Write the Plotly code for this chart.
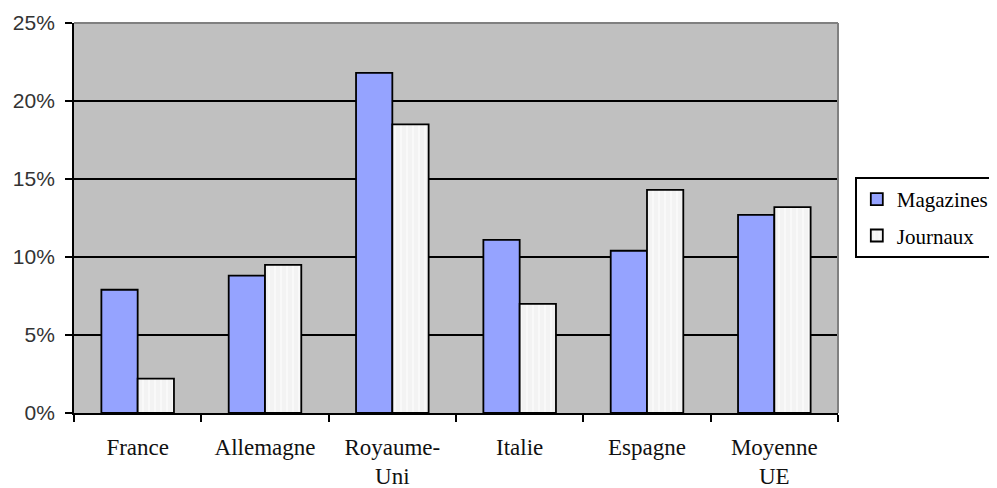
import plotly.graph_objects as go

categories = ["France", "Allemagne", "Royaume-<br>Uni", "Italie", "Espagne", "Moyenne<br>UE"]
magazines = [7.9, 8.8, 21.8, 11.1, 10.4, 12.7]
journaux = [2.2, 9.5, 18.5, 7.0, 14.3, 13.2]
y_ticks = [0, 5, 10, 15, 20, 25]
y_tick_labels = ["0%", "5%", "10%", "15%", "20%", "25%"]

fig = go.Figure()
fig.add_trace(go.Bar(
    name="Magazines", x=categories, y=magazines, legendgroup="m",
    marker=dict(color="#95A3FF", line=dict(color="black", width=1.8)),
))
fig.add_trace(go.Bar(
    name="Journaux", x=categories, y=journaux, legendgroup="j",
    marker=dict(color="#F3F3F3", line=dict(color="black", width=1.8),
                pattern=dict(shape="|", fgcolor="#FFFFFF", size=6, solidity=0.35)),
))

fig.update_layout(
    width=997, height=488,
    margin=dict(l=66, r=167, t=15, b=83, autoexpand=False),
    paper_bgcolor="white", plot_bgcolor="#C0C0C0",
    barmode="group", bargap=0.43, bargroupgap=0,
    showlegend=True,
    legend=dict(x=1.022, y=0.605, xanchor="left", yanchor="top",
                bordercolor="black", borderwidth=2, bgcolor="white",
                font=dict(family="Liberation Serif", size=21, color="black"),
                traceorder="grouped", tracegroupgap=6, itemwidth=30),
    font=dict(family="Liberation Serif", color="black"),
)
fig.update_xaxes(
    showline=True, linecolor="black", linewidth=1.8,
    ticks="outside", tickson="boundaries", ticklen=7, tickcolor="black", tickwidth=1.8,
    tickfont=dict(family="Liberation Serif", size=23, color="#111111"),
    ticklabelstandoff=12,
    showgrid=False,
)
fig.update_yaxes(
    range=[0, 25], tickvals=y_ticks, ticktext=y_tick_labels,
    showline=True, linecolor="black", linewidth=1.8,
    ticks="outside", ticklen=7, tickcolor="black", tickwidth=1.8,
    tickfont=dict(family="Liberation Sans", size=21, color="#333333"),
    ticklabelstandoff=6,
    showgrid=True, gridcolor="black", gridwidth=1.8,
    zeroline=False,
)
# gray top and right borders of the plot area
fig.add_shape(type="line", xref="paper", yref="paper", x0=0, x1=1, y0=1, y1=1,
              line=dict(color="#808080", width=2))
fig.add_shape(type="line", xref="paper", yref="paper", x0=1, x1=1, y0=0, y1=1,
              line=dict(color="#808080", width=2))

fig.write_html("out.html")
